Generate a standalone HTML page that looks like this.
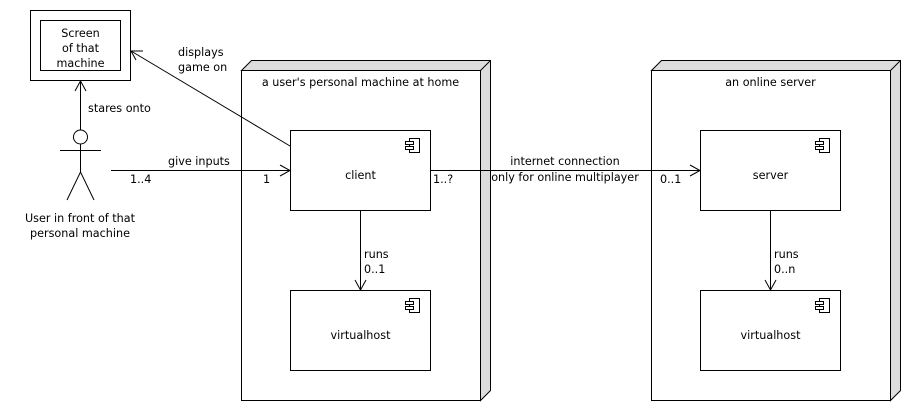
<!DOCTYPE html>
<html><head><meta charset="utf-8"><style>
html,body{margin:0;padding:0;background:#fff;}
svg text{font-family:"DejaVu Sans","Liberation Sans",sans-serif;font-size:11.2px;fill:#000;}
</style></head><body>
<svg width="910" height="410" viewBox="0 0 910 410" xmlns="http://www.w3.org/2000/svg">
<defs>
<g id="ci"><rect x="0" y="0" width="10" height="14" fill="#fff" stroke="#000"/><rect x="-4" y="3" width="8" height="3" fill="#fff" stroke="#000"/><rect x="-4" y="8" width="8" height="3" fill="#fff" stroke="#000"/></g>
</defs>
<g stroke="#000" stroke-width="1" fill="none">
<rect x="30.5" y="10.5" width="100" height="70" fill="#fff"/>
<rect x="40.5" y="20.5" width="80" height="50"/>
<polygon points="241.5,70.5 251.5,60.5 490.5,60.5 490.5,390.5 480.5,400.5 480.5,70.5" fill="#ddd"/>
<rect x="241.5" y="70.5" width="239" height="330" fill="#fff"/>
<line x1="480.5" y1="70.5" x2="490.5" y2="60.5"/>
<polygon points="651.5,70.5 661.5,60.5 900.5,60.5 900.5,390.5 890.5,400.5 890.5,70.5" fill="#ddd"/>
<rect x="651.5" y="70.5" width="239" height="330" fill="#fff"/>
<line x1="890.5" y1="70.5" x2="900.5" y2="60.5"/>
<circle cx="80.5" cy="137" r="7"/>
<line x1="60" y1="150.5" x2="101" y2="150.5"/>
<line x1="80.5" y1="144" x2="80.5" y2="172"/>
<polyline points="67,200 80.5,172 94,200"/>
<line x1="80.5" y1="130" x2="80.5" y2="81"/>
<polyline points="75,91 80.5,81 86,91"/>
<line x1="290" y1="146" x2="131" y2="51"/>
<polyline points="136,60 131,51 143,51"/>
<line x1="111" y1="170.5" x2="290" y2="170.5"/>
<polyline points="280,165 290,170.5 280,176"/>
<line x1="430" y1="170.5" x2="700" y2="170.5"/>
<polyline points="690,165 700,170.5 690,176"/>
<line x1="360.5" y1="210" x2="360.5" y2="290"/>
<polyline points="355,280 360.5,290 366,280"/>
<line x1="770.5" y1="210" x2="770.5" y2="290"/>
<polyline points="765,280 770.5,290 776,280"/>
<rect x="290.5" y="130.5" width="140" height="80" fill="#fff"/>
<rect x="290.5" y="290.5" width="140" height="80" fill="#fff"/>
<rect x="700.5" y="130.5" width="140" height="80" fill="#fff"/>
<rect x="700.5" y="290.5" width="140" height="80" fill="#fff"/>
</g>
<use href="#ci" x="409.5" y="138.5"/>
<use href="#ci" x="409.5" y="298.5"/>
<use href="#ci" x="819.5" y="138.5"/>
<use href="#ci" x="819.5" y="298.5"/>
<g text-anchor="middle">
<text x="80.5" y="37">Screen</text>
<text x="80.5" y="52">of that</text>
<text x="80.5" y="67">machine</text>
<text x="80" y="222">User in front of that</text>
<text x="80" y="237">personal machine</text>
<text x="360.5" y="86">a user's personal machine at home</text>
<text x="770.5" y="86">an online server</text>
<text x="360.5" y="179">client</text>
<text x="360.5" y="339">virtualhost</text>
<text x="770.5" y="179">server</text>
<text x="770.5" y="339">virtualhost</text>
<text x="565" y="165">internet connection</text>
<text x="565" y="181">only for online multiplayer</text>
</g>
<text x="178" y="56">displays</text>
<text x="178" y="71">game on</text>
<text x="88" y="112">stares onto</text>
<text x="168" y="165">give inputs</text>
<text x="130" y="183">1..4</text>
<text x="263" y="183">1</text>
<text x="433" y="183">1..?</text>
<text x="660" y="183">0..1</text>
<text x="364" y="258">runs</text>
<text x="364" y="273">0..1</text>
<text x="774" y="258">runs</text>
<text x="774" y="273">0..n</text>
</svg>
</body></html>
